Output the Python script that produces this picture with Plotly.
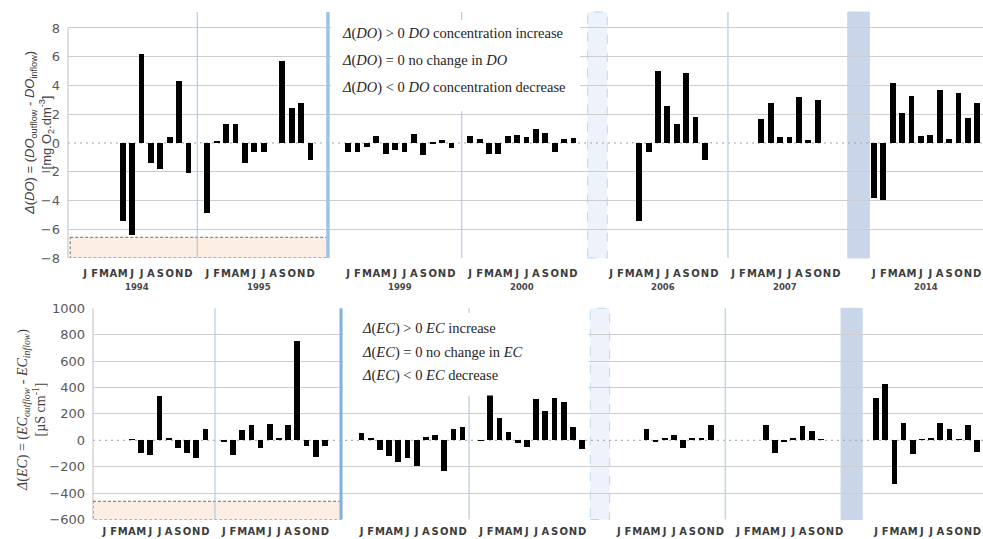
import plotly.graph_objects as go

# ---------------------------------------------------------------- data
years = ["1994", "1995", "1999", "2000", "2006", "2007", "2014"]
month_letters = ["J", "F", "M", "A", "M", "J", "J", "A", "S", "O", "N", "D"]

# change in dissolved oxygen, mg O2/dm3 (None = no measurement)
do_1994 = [None, None, None, None, -5.4, -6.4, 6.2, -1.4, -1.8, 0.4, 4.3, -2.1]
do_1995 = [-4.85, 0.15, 1.3, 1.3, -1.4, -0.6, -0.6, None, 5.7, 2.4, 2.8, -1.2]
do_1999 = [-0.65, -0.6, -0.3, 0.5, -0.8, -0.5, -0.6, 0.6, -0.85, -0.05, 0.2, -0.35]
do_2000 = [0.5, 0.3, -0.75, -0.75, 0.5, 0.55, 0.4, 1.0, 0.7, -0.6, 0.25, 0.35]
do_2006 = [None, None, None, -5.4, -0.65, 5.0, 2.55, 1.3, 4.9, 1.8, -1.2, None]
do_2007 = [None, None, None, 1.7, 2.8, 0.4, 0.4, 3.2, 0.2, 3.0, None, None]
do_2014 = [-3.8, -4.0, 4.2, 2.1, 3.25, 0.5, 0.55, 3.7, 0.25, 3.5, 1.75, 2.75]

# change in electrical conductivity, uS/cm
ec_1994 = [None, None, None, 5, -98, -115, 334, 15, -62, -100, -138, 80]
ec_1995 = [-10, -110, 75, 113, -60, 118, 10, 114, 750, -45, -127, -45]
ec_1999 = [50, 15, -75, -120, -170, -135, -195, 25, 38, -235, 85, 100]
ec_2000 = [-5, 340, 165, 60, -20, -50, 310, 220, 315, 288, 95, -70]
ec_2006 = [None, None, None, 85, -8, 12, 38, -58, 12, 12, 110, None]
ec_2007 = [None, None, None, 110, -97, -10, 10, 105, 68, 3, None, None]
ec_2014 = [316, 425, -336, 131, -104, 3, 18, 131, 86, 3, 111, -88]

do_series = [do_1994, do_1995, do_1999, do_2000, do_2006, do_2007, do_2014]
ec_series = [ec_1994, ec_1995, ec_1999, ec_2000, ec_2006, ec_2007, ec_2014]

do_ticks = list(range(-8, 9, 2))
ec_ticks = list(range(-600, 1001, 200))

# ---------------------------------------------------------------- layout helpers
W, H = 983, 539
# first-month slot of every year block on the shared month axis
year_start = [0, 13, 28, 41, 56, 69, 84]


def px_y(p):
    return 1 - p / H


month_x, month_txt = [], []
for s in year_start:
    for m, lab in enumerate(month_letters):
        month_x.append(s + m)
        month_txt.append(lab)


def flat(series):
    xs, ys = [], []
    for s, vals in zip(year_start, series):
        for m, v in enumerate(vals):
            if v is not None:
                xs.append(s + m)
                ys.append(v)
    return xs, ys


fig = go.Figure()
xd, yd = flat(do_series)
xe, ye = flat(ec_series)
fig.add_trace(go.Bar(x=xd, y=yd, width=0.62, marker=dict(color="black", line=dict(width=0)),
                     xaxis="x", yaxis="y", hoverinfo="skip"))
fig.add_trace(go.Bar(x=xe, y=ye, width=0.62, marker=dict(color="black", line=dict(width=0)),
                     xaxis="x2", yaxis="y2", hoverinfo="skip"))

grid = "#CDCDCD"
tickfont_x = dict(family="DejaVu Sans", size=10, color="#3C3C3C", weight="bold")
tickfont_y = dict(family="DejaVu Sans", size=13, color="#595959")


def yaxis_style(ticks):
    # labels on every tick, grid lines on all but the zero line (drawn dotted below)
    return dict(tickvals=ticks, showgrid=False, zeroline=False, ticks="", tickfont=tickfont_y,
                ticklabelstandoff=7,
                minor=dict(tickvals=[t for t in ticks if t != 0], showgrid=True,
                           gridcolor=grid, gridwidth=1, ticks=""))


def xaxis_style(dom, rng, anchor, standoff):
    return dict(domain=dom, range=rng, tickvals=month_x, ticktext=month_txt, tickangle=0,
                showgrid=False, zeroline=False, showline=False, ticks="", tickfont=tickfont_x,
                ticklabelstandoff=standoff, anchor=anchor)


fig.update_layout(
    width=W, height=H, margin=dict(l=0, r=0, t=0, b=0, autoexpand=False),
    paper_bgcolor="white", plot_bgcolor="white", showlegend=False, bargap=0,
    xaxis=xaxis_style([68 / W, 1], [-1.832, 95.61], "y", 8),
    yaxis=dict(domain=[px_y(258), px_y(12)], range=[-8, 9.11], anchor="x", **yaxis_style(do_ticks)),
    xaxis2=xaxis_style([93 / W, 1], [-1.241, 95.65], "y2", 4),
    yaxis2=dict(domain=[px_y(519.5), px_y(308.3)], range=[-600, 1000], anchor="x2",
                **yaxis_style(ec_ticks)),
)

shapes = []


def band(xr, yr, x0, x1, fill, line_color, dash):
    shapes.append(dict(type="rect", xref=xr, yref=yr + " domain", x0=x0, x1=x1, y0=0, y1=1,
                       fillcolor=fill, line=dict(color=line_color, width=1, dash=dash), layer="below"))


def vline(xr, yr, x, color, width):
    shapes.append(dict(type="line", xref=xr, yref=yr + " domain", x0=x, x1=x, y0=0, y1=1,
                       line=dict(color=color, width=width), layer="above"))


def panel(xr, yr, ticks, beige, seps, dashed_band, solid_band, white_box):
    band(xr, yr, dashed_band[0], dashed_band[1], "#EEF3FB", "#BDD7EE", "dash")
    band(xr, yr, solid_band[0], solid_band[1], "#C9D5E8", "#C9D5E8", "solid")
    # dotted zero line
    shapes.append(dict(type="line", xref=xr + " domain", yref=yr, x0=0, x1=1, y0=0, y1=0,
                       line=dict(color="#A0A0A0", width=1, dash="2px,4px"), layer="below"))
    # value axis line
    shapes.append(dict(type="line", xref=xr + " domain", yref=yr, x0=0, x1=0, y0=ticks[0], y1=ticks[-1],
                       line=dict(color="#BFBFBF", width=1), layer="below"))
    # beige box under the first two years
    shapes.append(dict(type="rect", xref=xr, yref=yr, x0=beige[0], x1=beige[1], y0=beige[2], y1=ticks[0],
                       fillcolor="#FCEEE2", line=dict(color="#6E6E6E", width=1, dash="3px,2px"),
                       layer="above"))
    for x, c, w in seps:
        vline(xr, yr, x, c, w)
    # white panel behind the legend text
    shapes.append(dict(type="rect", xref=xr, yref=yr, x0=white_box[0], x1=white_box[1],
                       y0=white_box[2], y1=white_box[3], fillcolor="white",
                       line=dict(width=0), layer="above"))


panel("x", "y", do_ticks, (-1.6, 25.85, -6.56),
      [(11.93, "#9DC3E6", 1), (25.85, "#9DC3E6", 3.5), (40.1, "#AEBEDC", 1), (68.45, "#BDD7EE", 1.5)],
      (53.5, 55.6), (81.2, 83.5), (26.2, 52.7, 2.2, 8.55))
panel("x2", "y2", ec_ticks, (-1.24, 25.76, -462),
      [(12.04, "#9DC3E6", 1), (25.76, "#7FB1DE", 3), (39.7, "#AEBEDC", 1), (67.6, "#BDD7EE", 1.5)],
      (52.9, 55.0), (80.2, 82.5), (25.98, 52.7, 340, 965))

fig.update_layout(shapes=shapes)

ann = []
# year labels under the month letters
for s, yr in zip(year_start, years):
    ann.append(dict(xref="x", yref="paper", x=s + 5.5, y=px_y(287), text=yr, showarrow=False,
                    font=dict(family="DejaVu Sans", size=8.5, color="#4A4A4A", weight="bold"),
                    xanchor="center", yanchor="middle"))

serif = dict(family="Liberation Serif", size=14.5, color="#262626")
do_notes = ["<i>Δ</i>(<i>DO</i>) > 0 <i>DO</i> concentration increase",
            "<i>Δ</i>(<i>DO</i>) = 0 no change in <i>DO</i>",
            "<i>Δ</i>(<i>DO</i>) < 0 <i>DO</i> concentration decrease"]
for t, yp in zip(do_notes, [34, 61, 87]):
    ann.append(dict(xref="paper", yref="paper", x=340 / W, y=px_y(yp), text=t, showarrow=False,
                    xanchor="left", yanchor="middle", font=serif))
ec_notes = ["<i>Δ</i>(<i>EC</i>) > 0 <i>EC</i> increase",
            "<i>Δ</i>(<i>EC</i>) = 0 no change in <i>EC</i>",
            "<i>Δ</i>(<i>EC</i>) < 0 <i>EC</i> decrease"]
for t, yp in zip(ec_notes, [328, 352, 376]):
    ann.append(dict(xref="paper", yref="paper", x=360 / W, y=px_y(yp), text=t, showarrow=False,
                    xanchor="left", yanchor="middle", font=serif))

# axis titles
ann.append(dict(xref="paper", yref="paper", x=39 / W, y=px_y(133), textangle=-90, showarrow=False,
                text="<i>Δ</i>(<i>DO</i>) = (<i>DO</i><sub>outflow</sub> - <i>DO</i><sub>inflow</sub>)"
                     "<br>[mg O<sub>2</sub>.dm<sup>-3</sup>]",
                font=dict(family="Liberation Sans", size=13, color="#404040"),
                xanchor="center", yanchor="middle"))
ann.append(dict(xref="paper", yref="paper", x=31 / W, y=px_y(410), textangle=-90, showarrow=False,
                text="<i>Δ</i>(<i>EC</i>) = (<i>EC</i><sub><i>outflow</i></sub> - <i>EC</i><sub><i>inflow</i></sub>)"
                     "<br>[µS cm<sup>-1</sup>]",
                font=dict(family="Liberation Serif", size=14, color="#404040"),
                xanchor="center", yanchor="middle"))

fig.update_layout(annotations=ann)
fig.write_html("out.html")
